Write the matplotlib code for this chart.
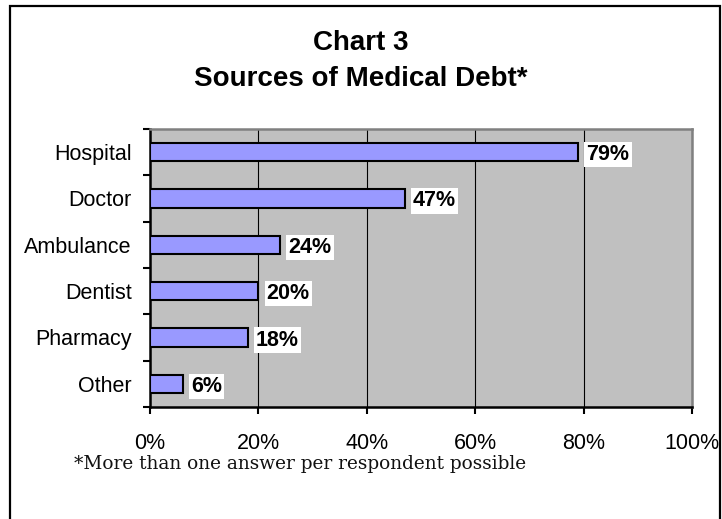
import matplotlib
matplotlib.use("Agg")
import matplotlib.pyplot as plt
from matplotlib.patches import Rectangle
from matplotlib.ticker import FixedLocator, FuncFormatter

categories = ["Hospital", "Doctor", "Ambulance", "Dentist", "Pharmacy", "Other"]
values = [79, 47, 24, 20, 18, 6]
x_ticks = [0, 20, 40, 60, 80, 100]

W, H = 722, 519
fig = plt.figure(figsize=(W / 100, H / 100), dpi=100)
plt.rcParams['font.family'] = ['Liberation Sans', 'DejaVu Sans']

# outer frame (bottom edge runs off the image)
fig.add_artist(Rectangle((10 / W, -0.2), 710 / W, 1 - 6 / H + 0.2,
                         transform=fig.transFigure, fill=False,
                         edgecolor='black', linewidth=1.6, clip_on=False))

ax = fig.add_axes([150 / W, 1 - 407 / H, 542 / W, 278 / H])
ax.set_facecolor('#C0C0C0')

n = len(categories)
pos = list(range(n))
ax.barh(pos, values, height=0.4, color='#9999FF', edgecolor='black',
        linewidth=1.5, zorder=3)
ax.set_xlim(0, 100)
ax.set_ylim(n - 0.5, -0.5)

for p, v in zip(pos, values):
    ax.annotate(f"{v}%", xy=(v, p), xytext=(6, 0), textcoords='offset points',
                ha='left', va='center_baseline', fontsize=15.5, fontweight='bold',
                bbox=dict(boxstyle='square,pad=0.1', facecolor='white',
                          edgecolor='none'), zorder=4)

# y axis: ticks at category boundaries, labels at centres
ax.yaxis.set_major_locator(FixedLocator([i - 0.5 for i in range(n + 1)]))
ax.yaxis.set_major_formatter(FuncFormatter(lambda v, _: ""))
ax.yaxis.set_minor_locator(FixedLocator(pos))
ax.set_yticklabels(categories, minor=True)
ax.tick_params(axis='y', which='major', length=5, width=1.5, direction='out')
ax.tick_params(axis='y', which='minor', length=0, pad=13, labelsize=15.5)

ax.set_xticks(x_ticks)
ax.set_xticklabels([f"{t}%" for t in x_ticks])
ax.tick_params(axis='x', length=5, width=1.5, pad=14, labelsize=15.5)

ax.grid(axis='x', color='black', linewidth=0.8, zorder=1)
ax.set_axisbelow(True)

for s in ['left', 'bottom']:
    ax.spines[s].set_color('black')
    ax.spines[s].set_linewidth(1.8)
for s in ['top', 'right']:
    ax.spines[s].set_color('#808080')
    ax.spines[s].set_linewidth(1.8)

fig.text(361 / W, 1 - 50 / H, "Chart 3", ha='center', va='baseline',
         fontsize=20, fontweight='bold')
fig.text(361 / W, 1 - 86 / H, "Sources of Medical Debt*", ha='center',
         va='baseline', fontsize=20, fontweight='bold')

fig.text(300 / W, 1 - 469 / H, "*More than one answer per respondent possible",
         ha='center', va='baseline', fontsize=13.3, family='DejaVu Serif',
         color='#111111')

fig.savefig("out.png", dpi=100)
